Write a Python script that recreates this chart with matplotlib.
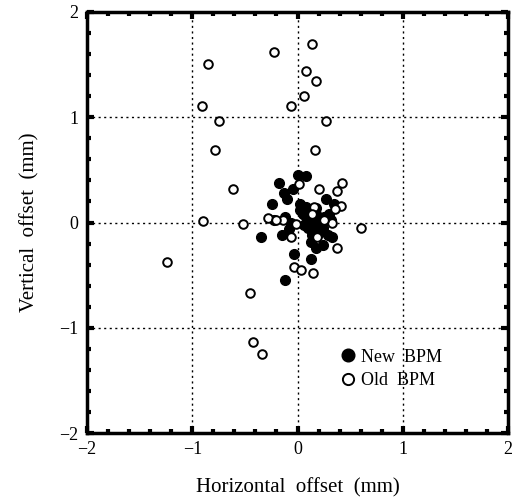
import matplotlib
matplotlib.use("Agg")
import matplotlib.pyplot as plt
from matplotlib.ticker import MultipleLocator

plt.rcParams['font.family'] = ['Liberation Serif', 'DejaVu Serif']

# New BPM (filled)
new_x = [0.00, 0.08, -0.18, -0.04, -0.13, -0.10, -0.24, 0.27, 0.35, 0.02, 0.05,
         -0.22, -0.12, -0.06, -0.35, -0.15, -0.08, 0.29, 0.33, 0.13, 0.18, 0.24,
         -0.03, 0.13, -0.12, 0.32,
         0.10, 0.14, 0.18, 0.22, 0.12, 0.16, 0.20, 0.25, 0.08, 0.10, 0.15, 0.20,
         0.05, 0.02, 0.08, 0.12, 0.28, 0.18, 0.06, 0.24, 0.14, 0.30]
new_y = [0.45, 0.44, 0.38, 0.32, 0.28, 0.22, 0.18, 0.22, 0.18, 0.18, 0.13,
         0.02, 0.05, 0.00, -0.14, -0.12, -0.06, -0.12, -0.14, -0.19, -0.24, -0.21,
         -0.30, -0.35, -0.55, 0.02,
         0.10, 0.05, 0.08, 0.04, 0.00, -0.02, 0.00, 0.05, 0.05, -0.05, -0.08, -0.10,
         0.08, 0.12, 0.15, 0.12, 0.02, 0.14, -0.02, -0.05, -0.12, 0.08]

# Old BPM (open)
old_x = [0.14, -0.22, -0.85, 0.08, 0.18, 0.06, -0.91, -0.06, -0.75, 0.27,
         -0.78, 0.17, -0.61, 0.42, 0.38, 0.20, 0.01, 0.41, 0.36, 0.16,
         -0.90, -0.52, -0.28, -0.14, -0.01, -0.06, 0.33, 0.60, 0.19, 0.38,
         -0.03, 0.03, 0.15, -0.45, -1.24, -0.42, -0.34, 0.14, 0.25, -0.20]
old_y = [1.70, 1.62, 1.51, 1.44, 1.34, 1.20, 1.11, 1.11, 0.96, 0.96,
         0.69, 0.69, 0.32, 0.38, 0.30, 0.32, 0.37, 0.16, 0.13, 0.15,
         0.01, -0.01, 0.04, 0.02, -0.01, -0.14, 0.00, -0.05, -0.14, -0.24,
         -0.42, -0.45, -0.48, -0.67, -0.38, -1.14, -1.25, 0.08, 0.02, 0.02]

fig = plt.figure(figsize=(5.16, 5.03), dpi=100)
ax = fig.add_axes([87/516, 1 - 433/503, 421/516, 421/503])

ax.plot(new_x, new_y, 'o', ls='none', color='black', markersize=7,
        label='New  BPM', zorder=3)
ax.plot(old_x, old_y, 'o', ls='none', markerfacecolor='white',
        markeredgecolor='black', markeredgewidth=1.4, markersize=6.2,
        label='Old  BPM', zorder=4)

ax.set_xlim(-2, 2)
ax.set_ylim(-2, 2)
ax.xaxis.set_major_locator(MultipleLocator(1))
ax.yaxis.set_major_locator(MultipleLocator(1))
ax.xaxis.set_minor_locator(MultipleLocator(0.2))
ax.yaxis.set_minor_locator(MultipleLocator(0.2))
ax.grid(True, which='major', color='black', linestyle=(0, (1.5, 2.5)), linewidth=1)

for s in ax.spines.values():
    s.set_linewidth(2.5)
ax.tick_params(which='both', direction='in', top=True, right=True,
               labelsize=13, pad=6)
ax.tick_params(which='major', length=5, width=3)
ax.tick_params(which='minor', length=3, width=3)

ax.set_xlabel('Horizontal  offset  (mm)', fontsize=15, labelpad=14)
ax.set_ylabel('Vertical  offset  (mm)', fontsize=15, labelpad=14)

ax.legend(loc='upper left', bbox_to_anchor=(0.576, 0.222), frameon=False,
          fontsize=13, handletextpad=0.25, labelspacing=0.35, borderpad=0,
          handlelength=1.0, markerscale=1.3)

fig.savefig('out.png', dpi=100)
